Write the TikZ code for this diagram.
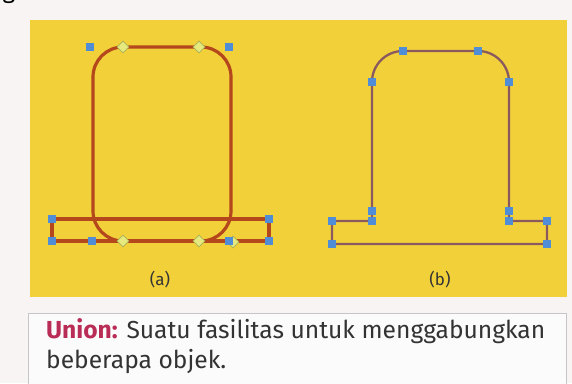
\documentclass[tikz,border=0pt]{standalone}
\usepackage{fontspec}
\setsansfont{Fira Sans}
\usetikzlibrary{shapes.geometric}
\definecolor{pagebg}{HTML}{F8F4F4}
\definecolor{bg}{HTML}{F2D03A}
\definecolor{brn}{HTML}{B4481C}
\definecolor{pbrn}{HTML}{8A5A5E}
\definecolor{hblue}{HTML}{4F8ED6}
\definecolor{dfill}{HTML}{E6EA7E}
\definecolor{dline}{HTML}{A9B255}
\definecolor{uni}{HTML}{B92C55}
\definecolor{txt}{HTML}{333333}

\begin{document}
\begin{tikzpicture}[
    x=1pt,
    y=-1pt,
    obj/.style={draw=brn, line width=3.2pt},
    ubody/.style={draw=pbrn, line width=2.3pt},
    hnd/.style={fill=hblue, minimum size=8pt, inner sep=0pt},
    tng/.style={diamond, draw=dline, fill=dfill, minimum size=12pt, inner sep=0pt, line width=0.7pt},
    lbl/.style={font=\sffamily\fontsize{17}{19}\selectfont, text=txt}
]

% --- Page and panel ---
\fill[pagebg] (0,0) rectangle (572,383);
\useasboundingbox (0,0) rectangle (572,383);
\node[anchor=base west, font=\sffamily\fontsize{24}{24}\selectfont] (frag) at (-1,-2) {g};
\fill[bg] (30,20) rectangle (567,297);

% --- (a): two objects ---
\draw[obj] (52,219) rectangle (269,241);
\draw[obj, rounded corners=30pt] (93,47) rectangle (231,241);

% bounding handles
\node[hnd] (a1) at (90,47) {};
\node[hnd] (a2) at (229,47) {};
\node[hnd] (a3) at (52,219) {};
\node[hnd] (a4) at (269,219) {};
\node[hnd] (a5) at (52,241) {};
\node[hnd] (a6) at (269,241) {};
\node[hnd] (a7) at (92,241) {};

% tangent points
\node[tng] (t1) at (123,47) {};
\node[tng] (t2) at (199,47) {};
\node[tng] (t3) at (123,241) {};
\node[tng] (t4) at (199,241) {};
\node[tng] (t5) at (233,242) {};
\node[hnd] (a8) at (229,241) {};

\node[lbl] (la) at (160,280) {(a)};

% --- (b): union ---
\draw[ubody] (372,221) -- (372,82)
    arc[start angle=180, end angle=270, radius=31] -- (478,51)
    arc[start angle=270, end angle=360, radius=31] -- (509,221)
    -- (547,221) -- (547,244) -- (332,244) -- (332,221) -- cycle;

\node[hnd] (b1) at (372,82) {};
\node[hnd] (b2) at (403,51) {};
\node[hnd] (b3) at (478,51) {};
\node[hnd] (b4) at (509,82) {};
\node[hnd] (b5) at (372,211) {};
\node[hnd] (b6) at (372,221) {};
\node[hnd] (b7) at (509,211) {};
\node[hnd] (b8) at (509,221) {};
\node[hnd] (b9) at (332,221) {};
\node[hnd] (b10) at (332,244) {};
\node[hnd] (b11) at (547,221) {};
\node[hnd] (b12) at (547,244) {};

\node[lbl] (lb) at (440,280) {(b)};

% --- Caption ---
\draw[gray!45, fill=white!97!gray, line width=1pt] (28,313) rectangle (566,400);
\node[anchor=base west, align=left, text=txt, inner sep=0pt,
      font=\sffamily\fontsize{24.6}{30}\selectfont] (cap) at (46,368)
    {\textcolor{uni}{\bfseries Union:} Suatu fasilitas untuk menggabungkan\\beberapa objek.};
\end{tikzpicture}
\end{document}
